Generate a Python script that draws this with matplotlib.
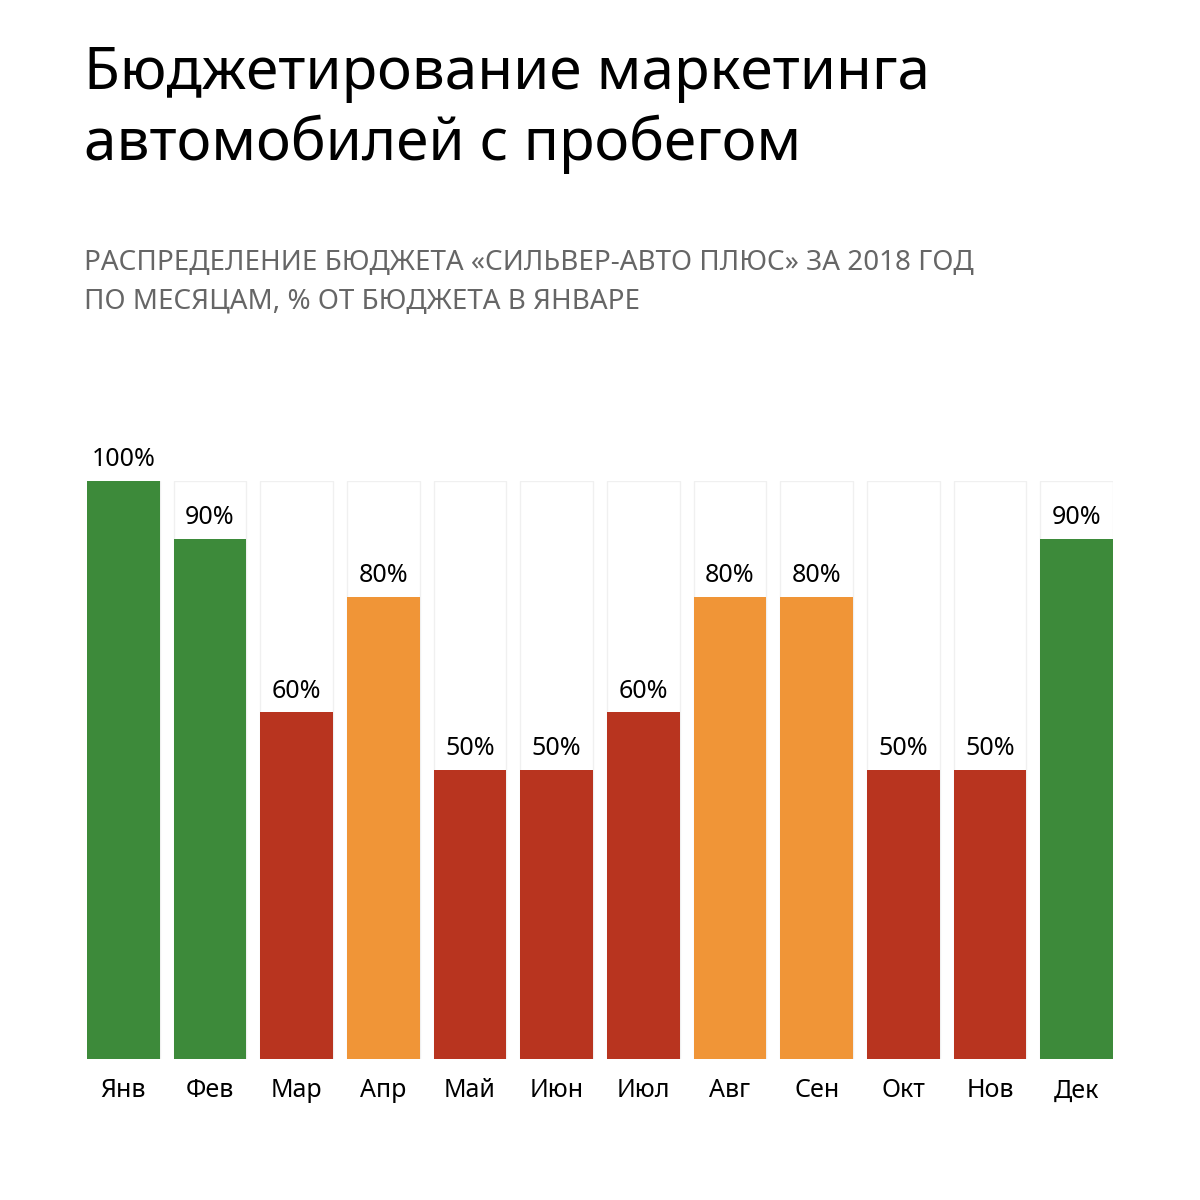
import matplotlib
matplotlib.use("Agg")
import matplotlib.pyplot as plt

months = ["Янв", "Фев", "Мар", "Апр", "Май", "Июн", "Июл", "Авг", "Сен", "Окт", "Нов", "Дек"]
values = [100, 90, 60, 80, 50, 50, 60, 80, 80, 50, 50, 90]
colors = ["#3d8a3a", "#3d8a3a", "#b8341f", "#f09537", "#b8341f", "#b8341f",
          "#b8341f", "#f09537", "#f09537", "#b8341f", "#b8341f", "#3d8a3a"]

plt.rcParams['font.family'] = ['Noto Sans', 'DejaVu Sans']
fig = plt.figure(figsize=(12, 12), dpi=100)
fig.patch.set_facecolor("white")

fig.text(0.07, 0.855, "Бюджетирование маркетинга\nавтомобилей с пробегом",
         fontsize=42, color="black", va="bottom", ha="left", linespacing=1.25)
fig.text(0.07, 0.737, "РАСПРЕДЕЛЕНИЕ БЮДЖЕТА «СИЛЬВЕР-АВТО ПЛЮС» ЗА 2018 ГОД\nПО МЕСЯЦАМ, % ОТ БЮДЖЕТА В ЯНВАРЕ",
         fontsize=20, color="#666666", va="bottom", ha="left", linespacing=1.5)

ax = fig.add_axes([0.0725, 0.1175, 0.855, 0.4817])
x = range(len(months))
ax.bar(x, [100] * 12, width=0.84, color="white", edgecolor="#f0f0f0", linewidth=1)
ax.bar(x, values, width=0.84, color=colors)
for i, v in enumerate(values):
    ax.text(i, v + 1.5, f"{v}%", ha="center", va="bottom", fontsize=18, color="black")
ax.set_xlim(-0.42, 11.42)
ax.set_ylim(0, 100)
ax.set_xticks(list(x))
ax.set_xticklabels(months, fontsize=18)
ax.tick_params(axis="x", length=0, pad=14)
ax.set_yticks([])
for s in ax.spines.values():
    s.set_visible(False)

fig.savefig("out.png", dpi=100, facecolor="white")
